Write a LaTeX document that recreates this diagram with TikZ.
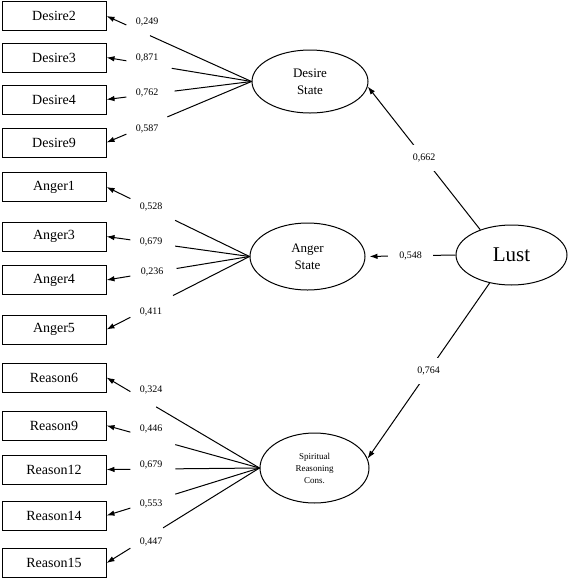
\documentclass[tikz,border=0pt]{standalone}
\usepackage{fontspec}
\setmainfont{Liberation Serif}
\usetikzlibrary{calc,shapes.geometric,arrows.meta}
\tikzset{
	item/.style={draw,line width=1pt,minimum width=104pt,minimum height=29pt,inner sep=0pt,font=\fontsize{14}{16}\selectfont},
	latent/.style={draw,ellipse,line width=1pt,inner sep=0pt,align=center},
	coef/.style={font=\fontsize{10}{12}\selectfont,inner sep=1pt},
	onpath/.style={coef,fill=white,inner xsep=11pt,inner ysep=9pt},
	arr/.style={-{Latex[length=8pt,width=5.5pt]}},
	link/.style={line width=1pt}
}
\begin{document}
\begin{tikzpicture}[x=1pt,y=-1pt]
			\useasboundingbox (0,0) rectangle (568,579);
			\node[item] (d2) at (54,16) {Desire2};
			\node[item] (d3) at (54,57.5) {Desire3};
			\node[item] (d4) at (54,99.5) {Desire4};
			\node[item] (d9) at (54,142.5) {Desire9};
			\node[item] (a1) at (54,187) {Anger1};
			\node[item] (a3) at (54,236.5) {Anger3};
			\node[item] (a4) at (54,280) {Anger4};
			\node[item] (a5) at (54,329.5) {Anger5};
			\node[item] (r6) at (54,377.5) {Reason6};
			\node[item] (r9) at (54,425.5) {Reason9};
			\node[item] (r12) at (54,469.5) {Reason12};
			\node[item] (r14) at (54,515.5) {Reason14};
			\node[item] (r15) at (54,563) {Reason15};
			\node[latent,minimum width=116pt,minimum height=63pt,font=\fontsize{13}{17}\selectfont] (desire) at (310,81.5) {Desire\\State};
			\node[latent,minimum width=115pt,minimum height=67pt,font=\fontsize{13}{17}\selectfont] (anger) at (307.5,256.5) {Anger\\State};
			\node[latent,minimum width=109pt,minimum height=70pt,font=\fontsize{9}{12}\selectfont] (reason) at (314.5,468) {Spiritual\\Reasoning\\Cons.};
			\node[latent,minimum width=111pt,minimum height=60pt,font=\fontsize{21}{24}\selectfont] (lust) at (511.5,255) {Lust};
			\draw[link] (desire.west) -- ($(desire.west)!0.70!(d2.east)$);
			\draw[link,arr] ($(desire.west)!0.863!(d2.east)$) -- (d2.east);
			\node[coef] (c249) at (147,22) {0,249};
			\draw[link] (desire.west) -- ($(desire.west)!0.55!(d3.east)$);
			\draw[link,arr] ($(desire.west)!0.863!(d3.east)$) -- (d3.east);
			\node[coef] (c871) at (147,58) {0,871};
			\draw[link] (desire.west) -- ($(desire.west)!0.53!(d4.east)$);
			\draw[link,arr] ($(desire.west)!0.863!(d4.east)$) -- (d4.east);
			\node[coef] (c762) at (147,93) {0,762};
			\draw[link] (desire.west) -- ($(desire.west)!0.58!(d9.east)$);
			\draw[link,arr] ($(desire.west)!0.863!(d9.east)$) -- (d9.east);
			\node[coef] (c587) at (147,129) {0,587};
			\draw[link] (anger.west) -- ($(anger.west)!0.52!(a1.east)$);
			\draw[link,arr] ($(anger.west)!0.833!(a1.east)$) -- (a1.east);
			\node[coef] (c528) at (151,207) {0,528};
			\draw[link] (anger.west) -- ($(anger.west)!0.52!(a3.east)$);
			\draw[link,arr] ($(anger.west)!0.833!(a3.east)$) -- (a3.east);
			\node[coef] (c679a) at (151,242) {0,679};
			\draw[link] (anger.west) -- ($(anger.west)!0.51!(a4.east)$);
			\draw[link,arr] ($(anger.west)!0.833!(a4.east)$) -- (a4.east);
			\node[coef] (c236) at (152,272) {0,236};
			\draw[link] (anger.west) -- ($(anger.west)!0.535!(a5.east)$);
			\draw[link,arr] ($(anger.west)!0.833!(a5.east)$) -- (a5.east);
			\node[coef] (c411) at (151,312) {0,411};
			\draw[link] (reason.west) -- ($(reason.west)!0.675!(r6.east)$);
			\draw[link,arr] ($(reason.west)!0.844!(r6.east)$) -- (r6.east);
			\node[coef] (c324) at (151,390) {0,324};
			\draw[link] (reason.west) -- ($(reason.west)!0.55!(r9.east)$);
			\draw[link,arr] ($(reason.west)!0.844!(r9.east)$) -- (r9.east);
			\node[coef] (c446) at (151,429) {0,446};
			\draw[link] (reason.west) -- ($(reason.west)!0.55!(r12.east)$);
			\draw[link,arr] ($(reason.west)!0.844!(r12.east)$) -- (r12.east);
			\node[coef] (c679b) at (151,465) {0,679};
			\draw[link] (reason.west) -- ($(reason.west)!0.55!(r14.east)$);
			\draw[link,arr] ($(reason.west)!0.844!(r14.east)$) -- (r14.east);
			\node[coef] (c553) at (151,504) {0,553};
			\draw[link] (reason.west) -- ($(reason.west)!0.63!(r15.east)$);
			\draw[link,arr] ($(reason.west)!0.844!(r15.east)$) -- (r15.east);
			\node[coef] (c447) at (151,542) {0,447};
			\draw[link,arr] (lust.141) -- node[onpath] (c662) {0,662} (desire.-5);
			\draw[link,arr,shorten >=4pt] (lust.west) -- node[onpath] (c548) {0,548} (anger.east);
			\draw[link,arr] (lust.232) -- node[onpath] (c764) {0,764} (reason.10);
		\end{tikzpicture}
\end{document}
